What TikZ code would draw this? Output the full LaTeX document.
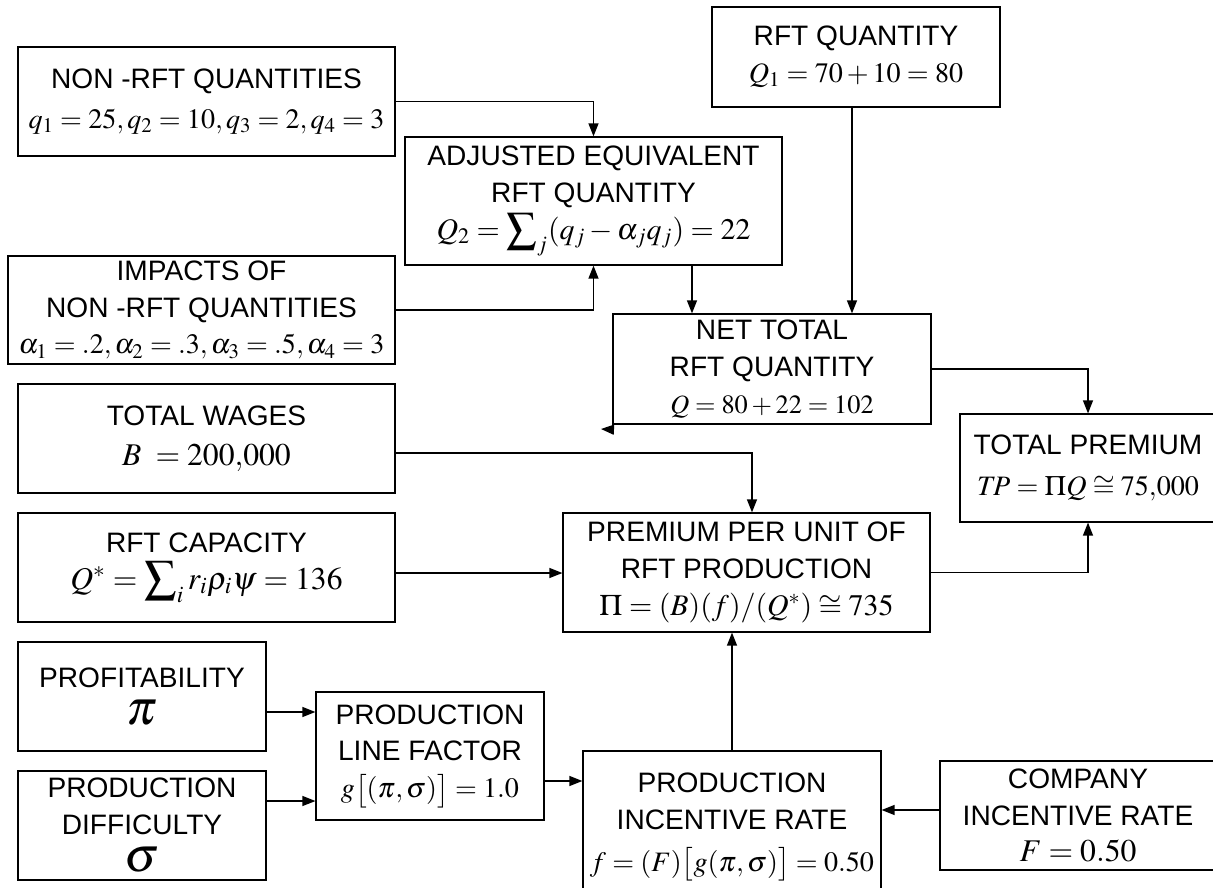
\documentclass[tikz,border=0pt]{standalone}
\usepackage{mathptmx}
\usepackage[no-math]{fontspec}
\setmainfont{Liberation Sans}
\usetikzlibrary{arrows.meta}
\newcommand{\eqn}[2][18]{{\fontsize{#1}{21}\selectfont$#2$}}
\newcommand{\bigsym}[1]{{\fontsize{28}{24}\selectfont$#1$}}
\begin{document}
\begin{tikzpicture}[x=0.02cm,y=-0.02cm,
  box/.style={draw,line width=0.7pt,inner sep=0pt,align=center,font=\fontsize{16}{21}\selectfont},
  arr/.style={line width=0.7pt,-{Triangle[length=2.6mm,width=2mm]}}]
\useasboundingbox (0,0) rectangle (1213,888);
% input boxes on the left
\node[box,minimum width=7.54cm,minimum height=2.18cm] (nonq) at (206.5,101.5) {NON -RFT QUANTITIES\\[2pt] \eqn[16]{q_1 = 25, q_2 = 10, q_3 = 2, q_4 = 3}};
\node[box,minimum width=7.74cm,minimum height=2.16cm] (impact) at (201.5,310) {IMPACTS OF\\NON -RFT QUANTITIES\\ \eqn[16]{\alpha_1 = .2, \alpha_2 = .3, \alpha_3 = .5, \alpha_4 = 3}};
\node[box,minimum width=7.54cm,minimum height=2.18cm] (wages) at (206.5,438.5) {TOTAL WAGES\\[2pt] \eqn{B \;= 200{,}000}};
\node[box,minimum width=7.54cm,minimum height=2.18cm] (cap) at (206.5,567.5) {RFT CAPACITY\\ \eqn{Q^{*} = \displaystyle\sum\nolimits_i r_i \rho_i \psi = 136}};
\node[box,minimum width=4.96cm,minimum height=2.18cm] (profit) at (142,696.5) {PROFITABILITY\\ \bigsym{\pi}};
\node[box,minimum width=4.96cm,minimum height=2.18cm] (diff) at (142,825.5) {PRODUCTION\\DIFFICULTY\\ \bigsym{\sigma}};
% quantities
\node[box,minimum width=7.54cm,minimum height=2.56cm] (adj) at (593.5,201) {ADJUSTED EQUIVALENT\\RFT QUANTITY\\ \eqn[17]{Q_2 = \displaystyle\sum\nolimits_j (q_j - \alpha_j q_j) = 22}};
\node[box,minimum width=5.76cm,minimum height=2.0cm] (rftq) at (856,57) {RFT QUANTITY\\ \eqn[16]{Q_1 = 70 + 10 = 80}};
\node[box,minimum width=6.36cm,minimum height=2.2cm] (net) at (772,369) {NET TOTAL\\RFT QUANTITY\\ \eqn[15]{Q = 80 + 22 = 102}};
% premium
\node[box,minimum width=7.34cm,minimum height=2.38cm] (prem) at (746.5,572.5) {PREMIUM PER UNIT OF\\RFT PRODUCTION\\ \eqn[17]{\Pi = (B)(f)/(Q^{*}) \cong 735}};
\node[box,minimum width=5.12cm,minimum height=2.16cm] (tp) at (1088,468) {TOTAL PREMIUM\\[2pt] \eqn[16]{T\!P = \Pi Q \cong 75{,}000}};
% rates
\node[box,minimum width=4.56cm,minimum height=2.56cm] (plf) at (430,756) {PRODUCTION\\LINE FACTOR\\ \eqn[16]{g\bigl[(\pi,\sigma)\bigr] = 1.0}};
\node[box,minimum width=5.96cm,minimum height=3.04cm] (pir) at (732,827) {PRODUCTION\\INCENTIVE RATE\\[3pt] \eqn[16]{f = (F)\bigl[g(\pi,\sigma)\bigr] = 0.50}};
\node[box,minimum width=5.52cm,minimum height=2.18cm] (comp) at (1078,815.5) {COMPANY\\INCENTIVE RATE\\ \eqn{F = 0.50}};
% connectors
\draw[arr] (nonq.east) -| (adj.north);
\draw[arr] (impact.east) -| (adj.south);
\draw[arr] ([xshift=1.97cm]adj.south) -- ([xshift=1.97cm]adj.south |- net.north);
\draw[arr] ([xshift=-0.08cm]rftq.south) -- ([xshift=-0.08cm]rftq.south |- net.north);
\draw[arr] (net.east) -| (tp.north);
\coordinate (tip) at (601,429);
\draw[arr] ([yshift=-0.1cm]net.south west) -- (tip);
\draw[arr] ([yshift=-0.29cm]wages.east) -| ([xshift=0.11cm]prem.north);
\draw[arr] ([yshift=-0.11cm]cap.east) -- ([yshift=-0.11cm]cap.east -| prem.west);
\draw[arr] (prem.east) -| (tp.south);
\draw[arr] (pir.north) -- (pir.north |- prem.south);
\draw[arr] ([yshift=-0.31cm]profit.east) -- ([yshift=-0.31cm]profit.east -| plf.west);
\draw[arr] ([yshift=0.49cm]diff.east) -- ([yshift=0.49cm]diff.east -| plf.west);
\draw[arr] ([yshift=-0.5cm]plf.east) -- ([yshift=-0.5cm]plf.east -| pir.west);
\draw[arr] ([yshift=0.11cm]comp.west) -- ([yshift=0.11cm]comp.west -| pir.east);
\end{tikzpicture}
\end{document}
